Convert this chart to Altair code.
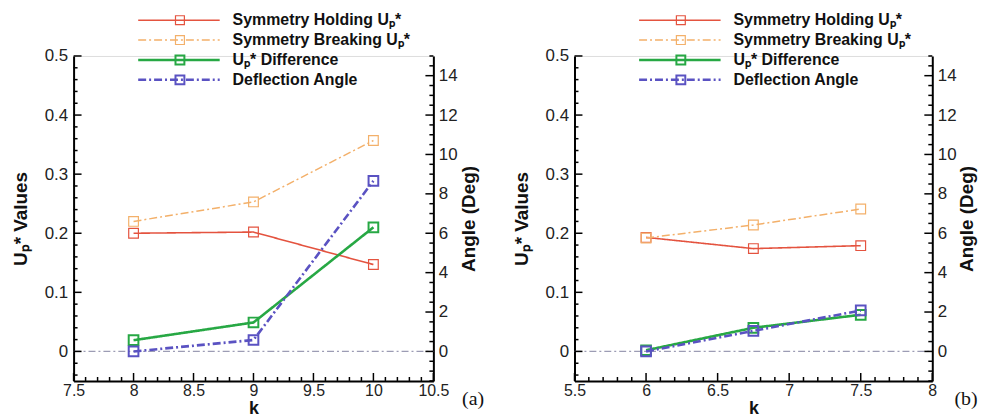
import altair as alt
import pandas as pd
import numpy as np

# ---------------- data ----------------
series_names = ["Symmetry Holding Uₚ*", "Symmetry Breaking Uₚ*", "Uₚ* Difference", "Deflection Angle"]
series_colors = ["#e4533f", "#f3b06a", "#27a844", "#5a52c2"]
series_dashes = [[1, 0], [8, 3, 2, 3], [1, 0], [8, 3, 2, 3]]
series_widths = [1.6, 1.5, 2.6, 2.6]
marker_widths = [1.2, 1.2, 2.0, 2.0]

# panel (a)
k_a = [8, 9, 10]
hold_a = [0.200, 0.202, 0.147]
break_a = [0.220, 0.253, 0.357]
diff_a = [0.019, 0.049, 0.210]
angle_a = [0.0, 0.58, 8.66]

# panel (b)
k_b = [6, 6.75, 7.5]
hold_b = [0.193, 0.174, 0.179]
break_b = [0.192, 0.214, 0.241]
diff_b = [0.002, 0.040, 0.062]
angle_b = [0.0, 1.04, 2.08]

# axes
x_dom_a = [7.5, 10.5]
x_major_a = [7.5, 8, 8.5, 9, 9.5, 10, 10.5]
x_dom_b = [5.5, 8]
x_major_b = [5.5, 6, 6.5, 7, 7.5, 8]
yl_dom = [-0.05, 0.5]
yl_major = [0, 0.1, 0.2, 0.3, 0.4, 0.5]
yr_dom = [-1.5, 15]
yr_major = [0, 2, 4, 6, 8, 10, 12, 14]

FONT = "Liberation Sans"


def minor_ticks(lo, hi, step, major):
    vals = np.round(np.arange(lo, hi + step / 2, step), 4)
    return [float(v) for v in vals if not any(abs(v - m) < 1e-6 for m in major)]


def panel(k, hold, brk, diff, ang, xdom, xmaj, W, H, tag, tagdx):
    xs = alt.Scale(domain=xdom, nice=False, zero=False)
    ysl = alt.Scale(domain=yl_dom, nice=False, zero=False)
    ysr = alt.Scale(domain=yr_dom, nice=False, zero=False)

    x_axis = alt.Axis(values=xmaj, format="~g", title="k", ticks=False, grid=False,
                      domainColor="black", domainWidth=2, labelFont=FONT, labelFontSize=16,
                      labelColor="#222", labelPadding=2, labelOverlap=False, labelFlush=False,
                      titleFont=FONT, titleFontSize=18, titleFontWeight="bold", titleColor="#111",
                      titlePadding=1)
    yl_axis = alt.Axis(values=yl_major, labelExpr="datum.value == 0 ? '0' : format(datum.value, '.1f')",
                       title="Uₚ* Values", ticks=False, grid=False, domainColor="black", domainWidth=2,
                       labelFont=FONT, labelFontSize=17, labelColor="#222", labelPadding=6,
                       labelOverlap=False, labelFlush=False,
                       titleFont=FONT, titleFontSize=19, titleFontWeight="bold", titleColor="#111",
                       titlePadding=14)
    yr_axis = alt.Axis(orient="right", values=yr_major, format="d", title="Angle (Deg)", ticks=False,
                       grid=False, domainColor="black", domainWidth=2,
                       labelFont=FONT, labelFontSize=17, labelColor="#222", labelPadding=5,
                       labelOverlap=False, labelFlush=False,
                       titleFont=FONT, titleFontSize=19, titleFontWeight="bold", titleColor="#111",
                       titleAngle=270, titlePadding=21)

    def X(f):
        return alt.X(f, scale=xs, axis=x_axis)

    def YL(f):
        return alt.Y(f, scale=ysl, axis=yl_axis)

    def YR(f):
        return alt.Y(f, scale=ysr, axis=yr_axis)

    up_vals = [hold, brk, diff]
    left_layers = []
    # zero reference line
    left_layers.append(
        alt.Chart(pd.DataFrame({"z": [0.0]})).mark_rule(color="#9c9cb4", strokeWidth=1.2,
                                                        strokeDash=[7, 3, 2, 3]).encode(
            x=alt.value(0), x2=alt.value(W), y=YL("z:Q"))
    )
    for i in range(3):
        df = pd.DataFrame({"k": k, "value": up_vals[i]})
        left_layers.append(
            alt.Chart(df).mark_line(color=series_colors[i], strokeWidth=series_widths[i],
                                    strokeDash=series_dashes[i]).encode(
                x=X("k:Q"), y=YL("value:Q"))
        )
        left_layers.append(
            alt.Chart(df).mark_point(shape="square", filled=False, size=95, color=series_colors[i],
                                     strokeWidth=marker_widths[i], opacity=1).encode(
                x=X("k:Q"), y=YL("value:Q"))
        )
    # inward ticks: left axis and bottom axis
    yl_minor = minor_ticks(-0.04, 0.48, 0.02, yl_major)
    for vals, ln in ((yl_major, 8), (yl_minor, 4)):
        left_layers.append(
            alt.Chart(pd.DataFrame({"t": vals})).mark_rule(color="black", strokeWidth=1.5).encode(
                y=YL("t:Q"), x=alt.value(0), x2=alt.value(ln))
        )
    x_minor = minor_ticks(xdom[0], xdom[1], 0.1, xmaj)
    for vals, ln in ((xmaj, 8), (x_minor, 4)):
        left_layers.append(
            alt.Chart(pd.DataFrame({"t": vals})).mark_rule(color="black", strokeWidth=1.5).encode(
                x=X("t:Q"), y=alt.value(H), y2=alt.value(H - ln))
        )
    # legend
    one = pd.DataFrame({"a": [0]})
    leg_y = [-36, -16, 4, 24]
    for i in range(4):
        left_layers.append(
            alt.Chart(one).mark_rule(color=series_colors[i], strokeWidth=series_widths[i],
                                     strokeDash=series_dashes[i]).encode(
                x=alt.value(65), x2=alt.value(147), y=alt.value(leg_y[i]))
        )
        left_layers.append(
            alt.Chart(one).mark_point(shape="square", filled=False, size=80, color=series_colors[i],
                                      strokeWidth=marker_widths[i], opacity=1).encode(
                x=alt.value(107), y=alt.value(leg_y[i]))
        )
        left_layers.append(
            alt.Chart(one).mark_text(align="left", baseline="middle", font=FONT, fontSize=16,
                                     fontWeight="bold", color="#111").encode(
                x=alt.value(160), y=alt.value(leg_y[i]), text=alt.value(series_names[i]))
        )
    # panel tag
    left_layers.append(
        alt.Chart(one).mark_text(align="center", baseline="middle", font="Liberation Serif",
                                 fontSize=20, color="#111").encode(
            x=alt.value(W + tagdx), y=alt.value(H + 18), text=alt.value(tag))
    )
    left = alt.layer(*left_layers)

    dfa = pd.DataFrame({"k": k, "value": ang})
    right_layers = [
        alt.Chart(dfa).mark_line(color=series_colors[3], strokeWidth=series_widths[3],
                                 strokeDash=series_dashes[3]).encode(
            x=X("k:Q"), y=YR("value:Q")),
        alt.Chart(dfa).mark_point(shape="square", filled=False, size=95, color=series_colors[3],
                                  strokeWidth=marker_widths[3], opacity=1).encode(
            x=X("k:Q"), y=YR("value:Q")),
    ]
    yr_minor = minor_ticks(-1.5, 15, 0.5, yr_major)
    for vals, ln in ((yr_major, 8), (yr_minor, 4)):
        right_layers.append(
            alt.Chart(pd.DataFrame({"t": vals})).mark_rule(color="black", strokeWidth=1.5).encode(
                y=YR("t:Q"), x=alt.value(W - ln), x2=alt.value(W))
        )
    right = alt.layer(*right_layers)

    return alt.layer(left, right).resolve_scale(y="independent").properties(width=W, height=H)


pa = panel(k_a, hold_a, break_a, diff_a, angle_a, x_dom_a, x_major_a, 362, 327, "(a)", 40)
pb = panel(k_b, hold_b, break_b, diff_b, angle_b, x_dom_b, x_major_b, 360, 327, "(b)", 34)

chart = alt.hconcat(pa, pb, spacing=26).properties(
    padding={"left": 2, "top": 2, "right": 0, "bottom": 0}
).configure_view(stroke=None).configure(background="white")

chart.save("out.html", embed_options={"renderer": "svg", "actions": False})
